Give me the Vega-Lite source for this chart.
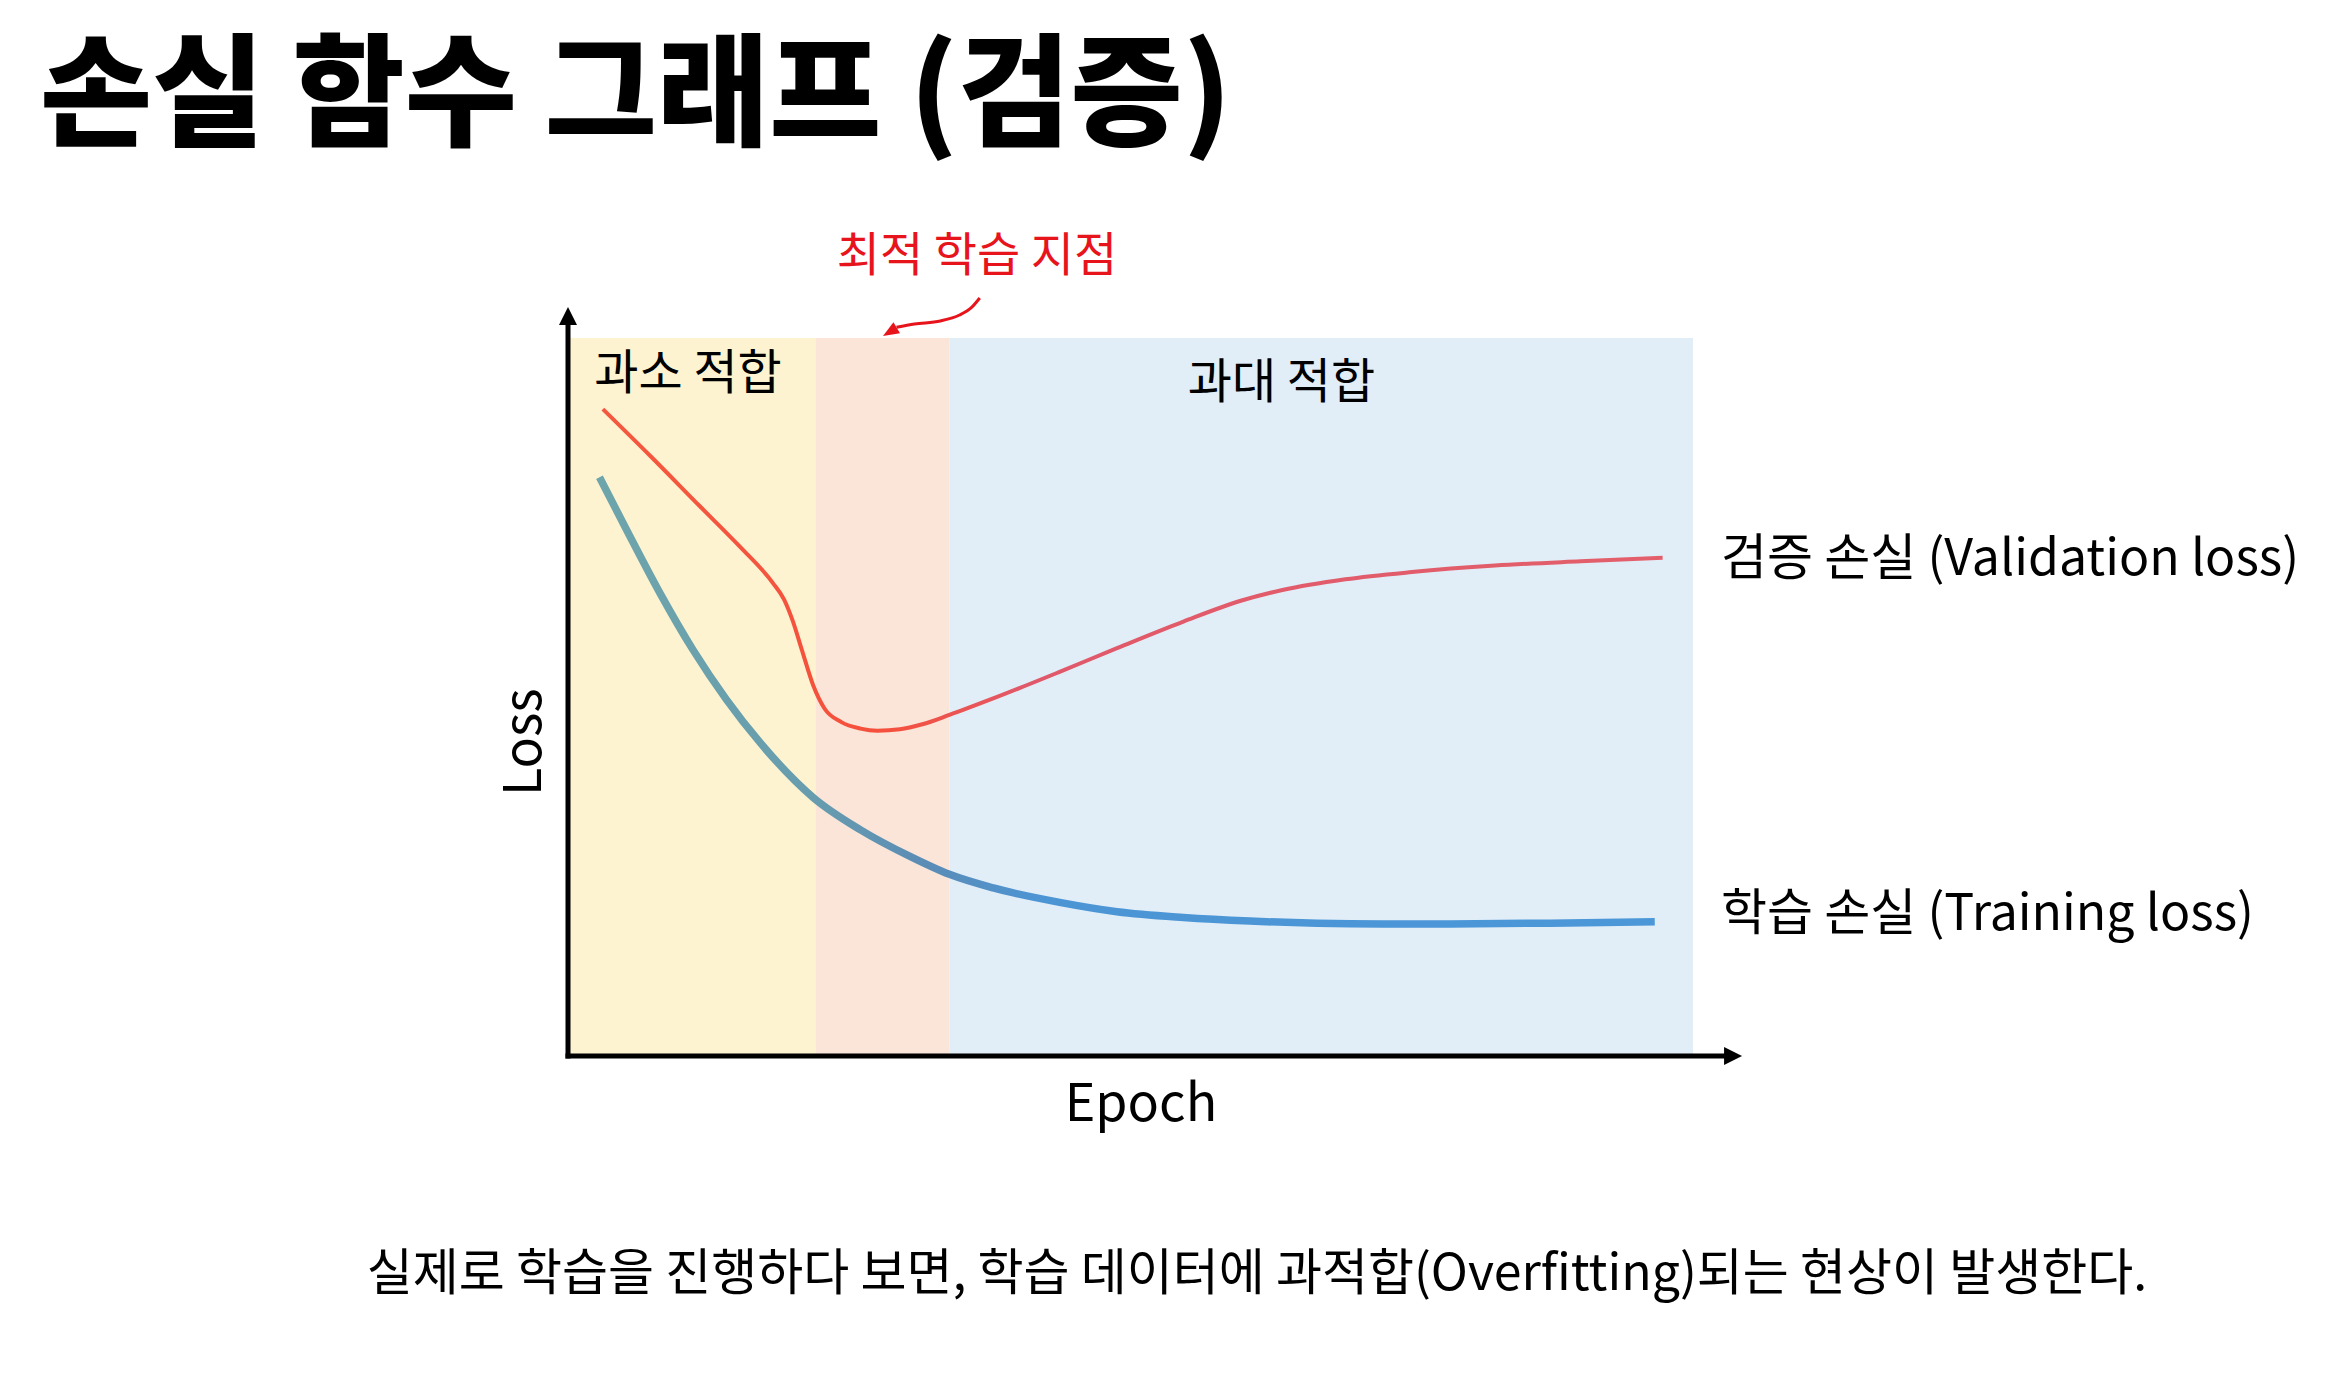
{
  "$schema": "https://vega.github.io/schema/vega-lite/v6.json",
  "width": 1125,
  "height": 718,
  "autosize": {"type": "none"},
  "padding": {"left": 568, "top": 338, "right": 652, "bottom": 329},
  "background": "#ffffff",
  "title": {
    "text": "손실 함수 그래프 (검증)",
    "anchor": "start",
    "frame": "group",
    "font": "Noto Sans CJK KR",
    "fontSize": 122,
    "fontWeight": 900,
    "color": "#000000",
    "dx": -528,
    "offset": 71
  },
  "config": {
    "font": "Noto Sans CJK KR",
    "view": {"stroke": null}
  },
  "datasets": {
    "regions": [
      {"region": "과소 적합", "start": 0, "end": 22},
      {"region": "최적 학습 지점", "start": 22, "end": 33.9},
      {"region": "과대 적합", "start": 33.9, "end": 100}
    ],
    "validation": [
      {"epoch": 3.1, "loss": 0.901},
      {"epoch": 7.3, "loss": 0.836},
      {"epoch": 11.7, "loss": 0.766},
      {"epoch": 15.3, "loss": 0.709},
      {"epoch": 18.2, "loss": 0.659},
      {"epoch": 19.2, "loss": 0.636},
      {"epoch": 20.0, "loss": 0.605},
      {"epoch": 20.8, "loss": 0.565},
      {"epoch": 21.8, "loss": 0.516},
      {"epoch": 22.8, "loss": 0.484},
      {"epoch": 24.3, "loss": 0.465},
      {"epoch": 26.0, "loss": 0.456},
      {"epoch": 27.5, "loss": 0.453},
      {"epoch": 29.5, "loss": 0.455},
      {"epoch": 31.5, "loss": 0.462},
      {"epoch": 33.9, "loss": 0.475},
      {"epoch": 37.8, "loss": 0.498},
      {"epoch": 43.7, "loss": 0.535},
      {"epoch": 48.8, "loss": 0.568},
      {"epoch": 54.7, "loss": 0.605},
      {"epoch": 59.8, "loss": 0.634},
      {"epoch": 63.5, "loss": 0.649},
      {"epoch": 69.1, "loss": 0.664},
      {"epoch": 75.0, "loss": 0.674},
      {"epoch": 82.4, "loss": 0.683},
      {"epoch": 90.0, "loss": 0.689},
      {"epoch": 97.3, "loss": 0.694}
    ],
    "training": [
      {"epoch": 2.8, "loss": 0.806},
      {"epoch": 5.2, "loss": 0.733},
      {"epoch": 8.2, "loss": 0.644},
      {"epoch": 11.1, "loss": 0.566},
      {"epoch": 14.1, "loss": 0.496},
      {"epoch": 17.1, "loss": 0.436},
      {"epoch": 21.8, "loss": 0.36},
      {"epoch": 26.0, "loss": 0.315},
      {"epoch": 30.4, "loss": 0.278},
      {"epoch": 33.9, "loss": 0.253},
      {"epoch": 37.8, "loss": 0.234},
      {"epoch": 43.7, "loss": 0.214},
      {"epoch": 48.8, "loss": 0.201},
      {"epoch": 54.7, "loss": 0.193},
      {"epoch": 60.6, "loss": 0.188},
      {"epoch": 66.6, "loss": 0.185},
      {"epoch": 72.4, "loss": 0.184},
      {"epoch": 78.4, "loss": 0.184},
      {"epoch": 87.3, "loss": 0.185},
      {"epoch": 96.6, "loss": 0.187}
    ],
    "pointer": [
      {"epoch": 29.2, "loss": 1.015},
      {"epoch": 30.8, "loss": 1.0195},
      {"epoch": 33.1, "loss": 1.0237},
      {"epoch": 34.8, "loss": 1.032},
      {"epoch": 35.9, "loss": 1.043},
      {"epoch": 36.6, "loss": 1.0557}
    ]
  },
  "layer": [
    {
      "data": {"name": "regions"},
      "mark": {"type": "rect"},
      "encoding": {
        "x": {"field": "start", "type": "quantitative", "axis": null, "scale": {"domain": [0, 100], "nice": false, "zero": false}},
        "x2": {"field": "end"},
        "y": {"datum": 0, "type": "quantitative", "axis": null, "scale": {"domain": [0, 1], "nice": false, "zero": false}},
        "y2": {"datum": 1},
        "color": {
          "field": "region",
          "type": "nominal",
          "scale": {"domain": ["과소 적합", "최적 학습 지점", "과대 적합"], "range": ["#fdf3d1", "#fae5d8", "#e1edf7"]},
          "legend": null
        }
      }
    },
    {
      "data": {"name": "validation"},
      "mark": {
        "type": "line",
        "interpolate": "monotone",
        "strokeWidth": 4,
        "color": {"gradient": "linear", "x1": 0, "x2": 1, "y1": 0, "y2": 0, "stops": [
          {"offset": 0, "color": "#f4583e"},
          {"offset": 0.27, "color": "#f5503d"},
          {"offset": 0.4, "color": "#e0596a"},
          {"offset": 1, "color": "#e35f6b"}
        ]}
      },
      "encoding": {
        "x": {"field": "epoch", "type": "quantitative", "axis": null},
        "y": {"field": "loss", "type": "quantitative", "axis": null}
      }
    },
    {
      "data": {"name": "training"},
      "mark": {
        "type": "line",
        "interpolate": "monotone",
        "strokeWidth": 7.5,
        "color": {"gradient": "linear", "x1": 0, "x2": 1, "y1": 0, "y2": 0, "stops": [
          {"offset": 0, "color": "#6ea5ab"},
          {"offset": 0.2, "color": "#679dae"},
          {"offset": 0.31, "color": "#5b8cb6"},
          {"offset": 0.42, "color": "#4c95d5"},
          {"offset": 1, "color": "#4b97d8"}
        ]}
      },
      "encoding": {
        "x": {"field": "epoch", "type": "quantitative", "axis": null},
        "y": {"field": "loss", "type": "quantitative", "axis": null}
      }
    },
    {
      "data": {"values": [{"axis": "Epoch"}]},
      "mark": {"type": "rule", "color": "#000000", "strokeWidth": 5, "strokeCap": "square"},
      "encoding": {
        "x": {"datum": 0, "type": "quantitative", "axis": null},
        "x2": {"datum": 103},
        "y": {"datum": 0, "type": "quantitative", "axis": null}
      }
    },
    {
      "data": {"values": [{"axis": "Loss"}]},
      "mark": {"type": "rule", "color": "#000000", "strokeWidth": 5, "strokeCap": "square"},
      "encoding": {
        "x": {"datum": 0, "type": "quantitative", "axis": null},
        "y": {"datum": 0, "type": "quantitative", "axis": null},
        "y2": {"datum": 1.025}
      }
    },
    {
      "data": {"values": [{"axis": "Epoch"}]},
      "mark": {"type": "point", "shape": "M-1,-1L1,0L-1,1Z", "filled": true, "opacity": 1, "size": 324, "color": "#000000", "strokeWidth": 0},
      "encoding": {
        "x": {"datum": 103.56, "type": "quantitative", "axis": null},
        "y": {"datum": 0, "type": "quantitative", "axis": null}
      }
    },
    {
      "data": {"values": [{"axis": "Loss"}]},
      "mark": {"type": "point", "shape": "M-1,1L0,-1L1,1Z", "filled": true, "opacity": 1, "size": 324, "color": "#000000", "strokeWidth": 0},
      "encoding": {
        "x": {"datum": 0, "type": "quantitative", "axis": null},
        "y": {"datum": 1.0306, "type": "quantitative", "axis": null}
      }
    },
    {
      "data": {"values": [{"axis": "Epoch"}]},
      "mark": {"type": "text", "fontSize": 52, "color": "#000000", "align": "center", "baseline": "alphabetic"},
      "encoding": {
        "x": {"datum": 50.93, "type": "quantitative", "axis": null},
        "y": {"datum": -0.0905, "type": "quantitative", "axis": null},
        "text": {"field": "axis"}
      }
    },
    {
      "data": {"values": [{"axis": "Loss"}]},
      "mark": {"type": "text", "fontSize": 52, "color": "#000000", "align": "center", "baseline": "alphabetic", "angle": 270},
      "encoding": {
        "x": {"datum": -2.4, "type": "quantitative", "axis": null},
        "y": {"datum": 0.437, "type": "quantitative", "axis": null},
        "text": {"field": "axis"}
      }
    },
    {
      "data": {"name": "pointer"},
      "mark": {"type": "line", "interpolate": "monotone", "strokeWidth": 3, "color": "#e8141c"},
      "encoding": {
        "x": {"field": "epoch", "type": "quantitative", "axis": null},
        "y": {"field": "loss", "type": "quantitative", "axis": null}
      }
    },
    {
      "data": {"values": [{"label": "최적 학습 지점"}]},
      "mark": {"type": "point", "shape": "M-1,-0.8L1,0L-1,0.8Z", "filled": true, "opacity": 1, "size": 256, "color": "#e8141c", "strokeWidth": 0, "angle": 149},
      "encoding": {
        "x": {"datum": 28.61, "type": "quantitative", "axis": null},
        "y": {"datum": 1.0084, "type": "quantitative", "axis": null}
      }
    },
    {
      "data": {"values": [{"label": "최적 학습 지점"}]},
      "mark": {"type": "text", "fontSize": 47, "color": "#e8141c", "align": "center", "baseline": "alphabetic"},
      "encoding": {
        "x": {"datum": 36.36, "type": "quantitative", "axis": null},
        "y": {"datum": 1.093, "type": "quantitative", "axis": null},
        "text": {"field": "label"}
      }
    },
    {
      "data": {"values": [{"label": "과소 적합"}]},
      "mark": {"type": "text", "fontSize": 48, "color": "#000000", "align": "center", "baseline": "alphabetic"},
      "encoding": {
        "x": {"datum": 10.67, "type": "quantitative", "axis": null},
        "y": {"datum": 0.929, "type": "quantitative", "axis": null},
        "text": {"field": "label"}
      }
    },
    {
      "data": {"values": [{"label": "과대 적합"}]},
      "mark": {"type": "text", "fontSize": 48, "color": "#000000", "align": "center", "baseline": "alphabetic"},
      "encoding": {
        "x": {"datum": 63.42, "type": "quantitative", "axis": null},
        "y": {"datum": 0.9164, "type": "quantitative", "axis": null},
        "text": {"field": "label"}
      }
    },
    {
      "data": {"values": [{"label": "검증 손실 (Validation loss)"}]},
      "mark": {"type": "text", "fontSize": 50, "color": "#000000", "align": "left", "baseline": "alphabetic"},
      "encoding": {
        "x": {"datum": 102.49, "type": "quantitative", "axis": null},
        "y": {"datum": 0.67, "type": "quantitative", "axis": null},
        "text": {"field": "label"}
      }
    },
    {
      "data": {"values": [{"label": "학습 손실 (Training loss)"}]},
      "mark": {"type": "text", "fontSize": 50, "color": "#000000", "align": "left", "baseline": "alphabetic"},
      "encoding": {
        "x": {"datum": 102.49, "type": "quantitative", "axis": null},
        "y": {"datum": 0.1755, "type": "quantitative", "axis": null},
        "text": {"field": "label"}
      }
    },
    {
      "data": {"values": [{"caption": "실제로 학습을 진행하다 보면, 학습 데이터에 과적합(Overfitting)되는 현상이 발생한다."}]},
      "mark": {"type": "text", "fontSize": 50, "color": "#000000", "align": "center", "baseline": "alphabetic"},
      "encoding": {
        "x": {"datum": 61.24, "type": "quantitative", "axis": null},
        "y": {"datum": -0.326, "type": "quantitative", "axis": null},
        "text": {"field": "caption"}
      }
    }
  ]
}
